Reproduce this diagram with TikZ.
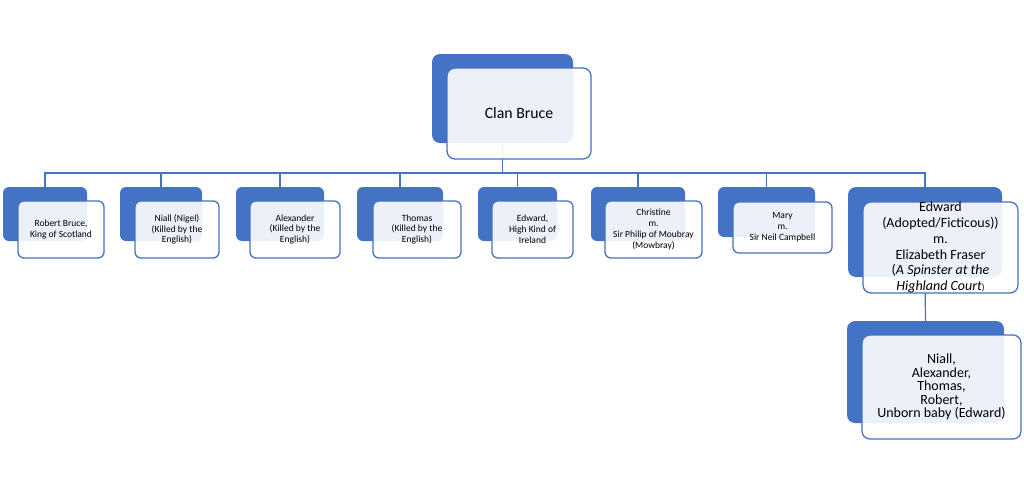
\documentclass[tikz,border=0pt]{standalone}
\usepackage{fontspec}
\setmainfont{Carlito}
\definecolor{bblue}{RGB}{68,114,196}
\begin{document}
\begin{tikzpicture}[x=1pt,y=-1pt,
  back/.style={fill=bblue,rounded corners=6pt,inner sep=0pt},
  front/.style={draw=bblue,line width=1.3pt,fill=white,fill opacity=0.9,text opacity=1,rounded corners=6pt,inner sep=0pt,align=center,text=black},
  small/.style={font=\fontsize{9.5}{10.8}\selectfont},
  big/.style={font=\fontsize{14}{15.7}\selectfont},
  conn/.style={draw=bblue,line width=1.2pt}]
\useasboundingbox (0,0) rectangle (1024,496);
\coordinate (bus) at (0,173);
% back boxes
\node[back,minimum width=141pt,minimum height=89pt,rounded corners=8pt] (tb) at (502.5,98.5) {};
\node[back,minimum width=84pt,minimum height=54pt] (b1) at (45,214) {};
\node[back,minimum width=82pt,minimum height=54pt] (b2) at (161,214) {};
\node[back,minimum width=88pt,minimum height=54pt] (b3) at (280,214) {};
\node[back,minimum width=86pt,minimum height=54pt] (b4) at (400,214) {};
\node[back,minimum width=79pt,minimum height=54pt] (b5) at (517.5,214) {};
\node[back,minimum width=94pt,minimum height=54pt] (b6) at (638,214) {};
\node[back,minimum width=97pt,minimum height=50pt] (b7) at (766.5,212) {};
\node[back,minimum width=154pt,minimum height=90pt,rounded corners=8pt] (b8) at (925,232) {};
\node[back,minimum width=157pt,minimum height=102pt,rounded corners=8pt] (b9) at (925.5,372) {};
% connectors
\foreach \n in {b1,b2,b3,b4,b5,b6,b7,b8}{
  \draw[conn] (tb.south) -- (tb.south |- bus) -| (\n.north);
}
\draw[conn] (b8.south) -- (b9.north);
% front boxes
\node[front,minimum width=144pt,minimum height=91pt,rounded corners=8pt,font=\fontsize{15.8}{18}\selectfont] (tf) at (519,113.5) {Clan Bruce};
\node[front,small,minimum width=86pt,minimum height=57pt] (f1) at (61,229.5) {Robert Bruce,\\King of Scotland};
\node[front,small,minimum width=84pt,minimum height=57pt] (f2) at (177,229.5) {Niall (Nigel)\\(Killed by the\\English)};
\node[front,small,minimum width=90pt,minimum height=57pt] (f3) at (295,229.5) {Alexander\\(Killed by the\\English)};
\node[front,small,minimum width=88pt,minimum height=57pt] (f4) at (417,229.5) {Thomas\\(Killed by the\\English)};
\node[front,small,minimum width=81pt,minimum height=57pt] (f5) at (532.5,229.5) {Edward,\\High Kind of\\Ireland};
\node[front,small,minimum width=97pt,minimum height=57pt] (f6) at (653.5,229.5) {Christine\\m.\\Sir Philip of Moubray\\(Mowbray)};
\node[front,small,minimum width=99pt,minimum height=51pt] (f7) at (782.5,227.5) {Mary\\m.\\Sir Neil Campbell};
\node[front,big,minimum width=155pt,minimum height=91pt,rounded corners=8pt] (f8) at (940.5,247.5) {Edward\\(Adopted/Ficticous))\\m.\\Elizabeth Fraser\\(\textit{A Spinster at the}\\\textit{Highland Court}{\fontsize{9}{9}\selectfont)}};
\node[front,font=\fontsize{14}{13.4}\selectfont,minimum width=159pt,minimum height=104pt,rounded corners=8pt] (f9) at (941.5,387) {Niall,\\Alexander,\\Thomas,\\Robert,\\Unborn baby (Edward)};
\end{tikzpicture}
\end{document}
